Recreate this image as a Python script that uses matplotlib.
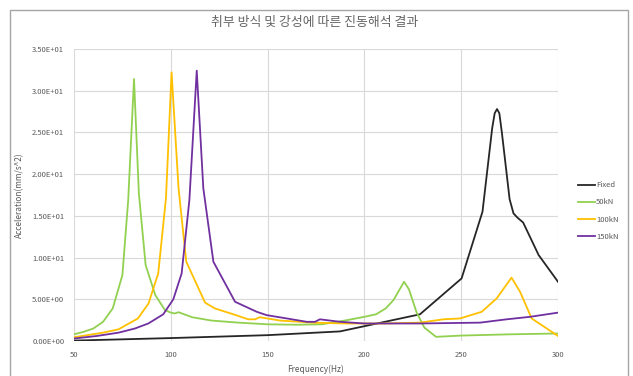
import matplotlib
matplotlib.use('Agg')
import matplotlib.pyplot as plt
from matplotlib.patches import Rectangle
from matplotlib.ticker import FuncFormatter, MultipleLocator

plt.rcParams['font.family'] = ['Noto Sans CJK KR', 'DejaVu Sans']

# data
freq_fixed = [50, 100, 150, 187.4, 228.7, 250.2, 261, 264, 266, 267.3, 268.5, 269.7, 271, 273, 275, 277, 279, 282, 290, 300]
acc_fixed = [0.05, 0.35, 0.7, 1.15, 3.2, 7.5, 15.5, 21.5, 25.5, 27.3, 27.8, 27.3, 25.0, 21.0, 17.0, 15.3, 14.8, 14.2, 10.3, 7.1]

freq_50 = [50, 55, 60, 65, 70, 75, 78, 81, 83.5, 87, 92, 97, 100, 102, 104, 111, 121, 135, 150, 165, 178, 191,
           200, 206, 211, 215, 220.5, 223, 227, 231, 237, 250, 275, 300]
acc_50 = [0.8, 1.1, 1.5, 2.3, 3.9, 7.9, 16.9, 31.4, 17.7, 9.1, 5.5, 3.7, 3.4, 3.3, 3.45, 2.85, 2.45, 2.2, 2.0, 1.95,
          2.0, 2.5, 2.9, 3.2, 3.9, 4.9, 7.1, 6.2, 3.4, 1.6, 0.5, 0.65, 0.8, 0.9]

freq_100 = [50, 65, 73, 83, 88.5, 93.5, 97.5, 100.4, 104, 108, 117.7, 122.8, 132.3, 140, 143.5, 146, 156.4, 173.6,
            190, 210, 228.7, 240.8, 249.4, 260.6, 268.3, 276, 280.4, 286.4, 300]
acc_100 = [0.45, 1.0, 1.4, 2.7, 4.5, 8.1, 17.1, 32.2, 18.3, 9.5, 4.6, 3.9, 3.2, 2.6, 2.6, 2.85, 2.45, 2.2,
           2.1, 2.1, 2.2, 2.6, 2.7, 3.5, 5.1, 7.6, 5.9, 2.7, 0.6]

freq_150 = [50, 61.7, 73, 81.5, 88.4, 96.1, 101.3, 105.6, 109.6, 113.4, 116.8, 122, 133.2, 144.4, 149.5, 160,
            170.2, 174.5, 177, 187.4, 200, 228.7, 259.7, 273.5, 285.6, 300]
acc_150 = [0.3, 0.6, 1.0, 1.5, 2.1, 3.2, 5.0, 8.1, 16.9, 32.4, 18.3, 9.5, 4.7, 3.5, 3.1, 2.7,
           2.3, 2.3, 2.6, 2.3, 2.1, 2.1, 2.2, 2.6, 2.9, 3.4]

text_color = '#595959'

fig = plt.figure(figsize=(6.33, 3.76), dpi=100)
ax = fig.add_axes([74 / 633, 1 - 341 / 376, (558 - 74) / 633, (341 - 49) / 376])

ax.plot(freq_fixed, acc_fixed, color='#262626', lw=1.3, label='Fixed', zorder=3)
ax.plot(freq_50, acc_50, color='#92D050', lw=1.3, label='50kN', zorder=3)
ax.plot(freq_100, acc_100, color='#FFC000', lw=1.3, label='100kN', zorder=3)
ax.plot(freq_150, acc_150, color='#7030A0', lw=1.3, label='150kN', zorder=3)

ax.set_xlim(50, 300)
ax.set_ylim(0, 35)
ax.xaxis.set_major_locator(MultipleLocator(50))
ax.yaxis.set_major_locator(MultipleLocator(5))
ax.yaxis.set_major_formatter(FuncFormatter(lambda v, p: f'{v:.2E}'))
ax.grid(True, color='#d9d9d9', linewidth=0.8, zorder=0)
for s in ax.spines.values():
    s.set_visible(False)
ax.tick_params(length=0, labelsize=5.5, labelcolor=text_color, pad=7)

ax.set_xlabel('Frequency(Hz)', fontsize=6, color=text_color, labelpad=4)
ax.set_ylabel('Acceleration(mm/s^2)', fontsize=6, color=text_color, labelpad=6)

fig.text(315 / 633, 1 - 22 / 376, '취부 방식 및 강성에 따른 진동해석 결과', ha='center', va='center',
         fontsize=9.3, color='#666666')

ax.legend(loc='center left', bbox_to_anchor=(571 / 633, 1 - 211 / 376), bbox_transform=fig.transFigure,
          frameon=False, fontsize=5.5, labelcolor=text_color, handlelength=2.2, handletextpad=0.2,
          labelspacing=1.2)

fig.patches.append(Rectangle((10 / 633, -0.05), (628 - 10) / 633, 1.05 - 9.5 / 376,
                             transform=fig.transFigure, fill=False, edgecolor='#a6a6a6', linewidth=1))

fig.savefig('out.png', dpi=100)
